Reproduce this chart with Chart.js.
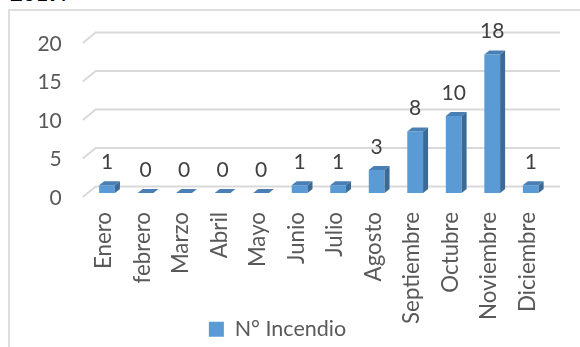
<!DOCTYPE html>
<html>
<head>
<meta charset="utf-8">
<script src="https://cdn.jsdelivr.net/npm/chart.js@4.4.0/dist/chart.umd.min.js"></script>
<style>
    html, body { margin: 0; padding: 0; background: #fff; }
    #wrap { position: relative; width: 580px; height: 347px; overflow: hidden; }
    #frame { position: absolute; left: 8px; top: 9px; width: 640px; height: 400px; border-left: 2px solid #dedede; border-top: 2px solid #dedede; }
    #title { position: absolute; left: 10px; top: -18px; font: bold 22px Lato; line-height: 22px; color: #000; }
    canvas { position: absolute; left: 0; top: 0; }
</style>
</head>
<body>
<div id="wrap">
    <div id="frame"></div>
    <div id="title">2019.</div>
    <canvas id="chart" width="580" height="347"></canvas>
</div>
<script>
var months = ['Enero', 'febrero', 'Marzo', 'Abril', 'Mayo', 'Junio', 'Julio', 'Agosto', 'Septiembre', 'Octubre', 'Noviembre', 'Diciembre'];
var incendios = [1, 0, 0, 0, 0, 1, 1, 3, 8, 10, 18, 1];
var yTicks = [0, 5, 10, 15, 20];
var seriesName = 'N° Incendio';

var frontColor = '#5b9bd5';
var topColor = '#4a7fb3';
var sideColor = '#3c6a96';
var depth = { dx: 5, dy: -4 };

// Fake 3D: slanted gridlines, bar tops/sides and value labels
var bar3d = {
    id: 'bar3d',
    beforeDatasetsDraw: function (chart) {
        var ctx = chart.ctx;
        var y = chart.scales.y;
        var area = chart.chartArea;
        ctx.save();
        ctx.strokeStyle = '#d9d9d9';
        ctx.lineWidth = 2;
        yTicks.forEach(function (v) {
            var py = y.getPixelForValue(v);
            ctx.beginPath();
            ctx.moveTo(area.left - 5, py + 4);
            ctx.lineTo(area.left + 8, py - 6.5);
            ctx.lineTo(area.right + 10, py - 6.5);
            ctx.stroke();
        });
        ctx.restore();
    },
    afterDatasetsDraw: function (chart) {
        var ctx = chart.ctx;
        var meta = chart.getDatasetMeta(0);
        ctx.save();
        meta.data.forEach(function (bar, i) {
            var half = bar.width / 2;
            var x0 = bar.x - half, x1 = bar.x + half;
            var top = bar.y, base = bar.base;

            ctx.fillStyle = topColor;
            ctx.beginPath();
            ctx.moveTo(x0, top);
            ctx.lineTo(x1, top);
            ctx.lineTo(x1 + depth.dx, top + depth.dy);
            ctx.lineTo(x0 + depth.dx, top + depth.dy);
            ctx.closePath();
            ctx.fill();

            ctx.fillStyle = sideColor;
            ctx.beginPath();
            ctx.moveTo(x1, top);
            ctx.lineTo(x1 + depth.dx, top + depth.dy);
            ctx.lineTo(x1 + depth.dx, base + depth.dy);
            ctx.lineTo(x1, base);
            ctx.closePath();
            ctx.fill();

            ctx.fillStyle = '#404040';
            ctx.font = '21px Lato';
            ctx.textAlign = 'center';
            ctx.textBaseline = 'middle';
            ctx.fillText(String(incendios[i]), bar.x, top - 23);
        });
        ctx.restore();
    }
};

var ctx = document.getElementById('chart');
var myChart = new Chart(ctx, {
    type: 'bar',
    data: {
        labels: months,
        datasets: [{
            label: seriesName,
            data: incendios,
            backgroundColor: frontColor,
            borderWidth: 0,
            barPercentage: 0.41,
            categoryPercentage: 1
        }]
    },
    options: {
        responsive: false,
        animation: false,
        devicePixelRatio: 1,
        layout: {
            padding: { left: 5, right: 30, top: 39, bottom: -3 }
        },
        scales: {
            x: {
                grid: { display: false, drawTicks: false },
                border: { display: false },
                ticks: {
                    minRotation: 90,
                    maxRotation: 90,
                    padding: 19,
                    labelOffset: -3,
                    color: '#595959',
                    font: { family: 'Lato', size: 22.3 }
                },
                afterFit: function (scale) {
                    // labels run down beside the legend, so keep the axis short and don't clip them
                    scale.height = 347 + 3 - 193 - scale.chart.legend.height;
                    scale._computeLabelArea = function () { return undefined; };
                }
            },
            y: {
                min: 0,
                max: 20,
                grid: { display: false, drawTicks: false },
                border: { display: false },
                ticks: {
                    stepSize: 5,
                    padding: 26,
                    labelOffset: 5,
                    color: '#595959',
                    font: { family: 'Lato', size: 21 }
                },
                afterFit: function (scale) {
                    scale.width = 82.75;
                }
            }
        },
        plugins: {
            legend: {
                position: 'bottom',
                labels: {
                    boxWidth: 15,
                    boxHeight: 15,
                    padding: 5,
                    color: '#595959',
                    font: { family: 'Lato', size: 21.5 }
                }
            },
            tooltip: { enabled: false }
        }
    },
    plugins: [bar3d]
});
</script>
</body>
</html>
